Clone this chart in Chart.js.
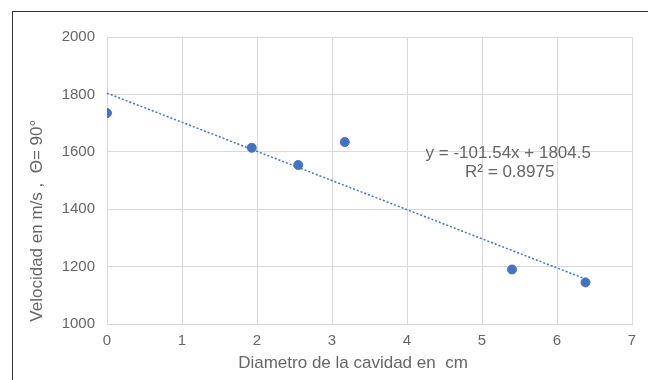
<!DOCTYPE html>
<html>
<head>
<meta charset="utf-8">
<script src="https://cdn.jsdelivr.net/npm/chart.js@4"></script>
<style>
  html, body { margin: 0; padding: 0; background: #fff; }
  #wrap { position: relative; width: 648px; height: 380px; overflow: hidden; }
  #frame { position: absolute; left: 12px; top: 11px; width: 700px; height: 420px; border: 1px solid #333; box-sizing: border-box; }
  canvas { position: absolute; left: 0; top: 0; }
</style>
</head>
<body>
<div id="wrap">
  <div id="frame"></div>
  <canvas id="chart" width="648" height="380"></canvas>
</div>
<script>
// Datos
const diametro = [0, 1.93, 2.55, 3.17, 5.4, 6.38];
const velocidad = [1735, 1614, 1554, 1634, 1190, 1145];

// Linea de tendencia (y = -101.54x + 1804.5)
const tendenciaX = [0, 6.38];
const tendenciaY = [1804.5, 1156.7];
const ecuacion = ['y = -101.54x + 1804.5', 'R² = 0.8975'];

const xTicks = [0, 1, 2, 3, 4, 5, 6, 7];
const yTicks = [1000, 1200, 1400, 1600, 1800, 2000];

const tituloX = 'Diametro de la cavidad en  cm';
const tituloY = 'Velocidad en m/s ,  Θ= 90°';

const azul = '#4472C4';
const gris = '#666666';
const fuente = '"Liberation Sans", Arial, sans-serif';

const puntos = diametro.map((x, i) => ({ x: x, y: velocidad[i] }));
const tendencia = tendenciaX.map((x, i) => ({ x: x, y: tendenciaY[i] }));

// Ecuacion y titulos de ejes
const textos = {
    id: 'textos',
    afterDatasetsDraw(chart) {
        const c = chart.ctx;
        const xs = chart.scales.x;
        const ys = chart.scales.y;
        const area = chart.chartArea;
        c.save();
        c.font = '17px ' + fuente;
        c.fillStyle = gris;
        c.textAlign = 'center';
        c.textBaseline = 'middle';
        c.fillText(ecuacion[0], xs.getPixelForValue(5.35), ys.getPixelForValue(1595));
        c.fillText(ecuacion[1], xs.getPixelForValue(5.37), ys.getPixelForValue(1528));

        c.fillText(tituloX, xs.getPixelForValue(3.28), area.bottom + 39);

        c.translate(37, area.top + area.height * 0.64);
        c.rotate(-Math.PI / 2);
        c.fillText(tituloY, 0, 0);
        c.restore();
    }
};

Chart.defaults.font.family = fuente;
Chart.defaults.color = gris;

new Chart(document.getElementById('chart').getContext('2d'), {
    type: 'scatter',
    data: {
        datasets: [
            {
                label: 'Velocidad',
                data: puntos,
                backgroundColor: azul,
                borderColor: azul,
                pointRadius: 4.5,
                pointHoverRadius: 4.5
            },
            {
                label: 'Tendencia',
                type: 'line',
                data: tendencia,
                borderColor: azul,
                borderWidth: 1.5,
                borderDash: [2, 2],
                pointRadius: 0,
                fill: false
            }
        ]
    },
    options: {
        responsive: false,
        animation: false,
        layout: { padding: { left: 20, top: 37, right: 16, bottom: 0 } },
        plugins: {
            legend: { display: false },
            tooltip: { enabled: false }
        },
        scales: {
            x: {
                type: 'linear',
                min: 0,
                max: 7,
                afterBuildTicks: (s) => { s.ticks = xTicks.map(v => ({ value: v })); },
                afterFit: (s) => { s.height = 56; },
                grid: { color: '#d9d9d9', drawTicks: false },
                border: { color: '#d9d9d9' },
                ticks: { padding: 8, font: { size: 15 }, color: gris }
            },
            y: {
                min: 1000,
                max: 2000,
                afterBuildTicks: (s) => { s.ticks = yTicks.map(v => ({ value: v })); },
                afterFit: (s) => { s.width = 87; },
                grid: { color: '#d9d9d9', drawTicks: false },
                border: { color: '#d9d9d9' },
                ticks: {
                    padding: 12,
                    font: { size: 15 },
                    color: gris,
                    callback: (v) => String(v)
                }
            }
        }
    },
    plugins: [textos]
});
</script>
</body>
</html>
